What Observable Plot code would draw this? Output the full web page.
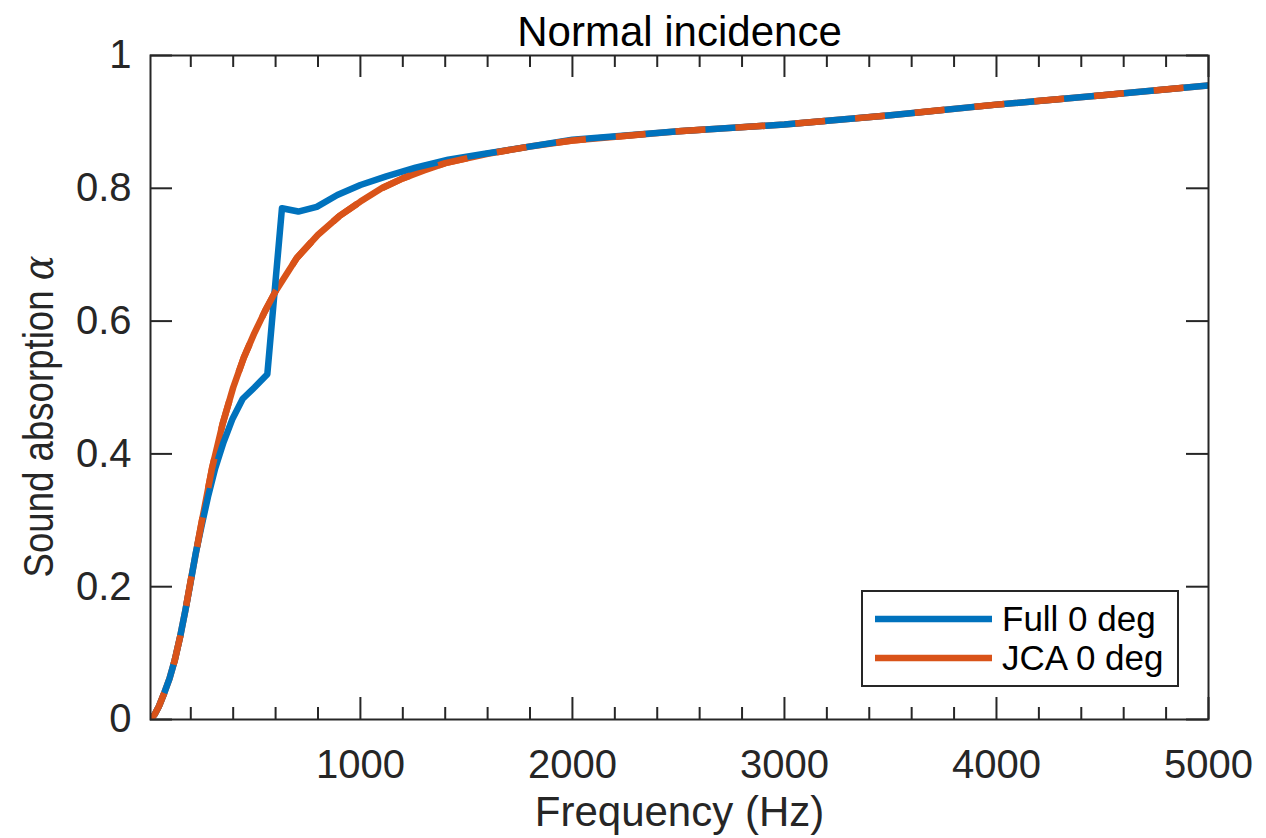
<!DOCTYPE html>
<html>
<head>
<meta charset="utf-8">
<script src="https://cdn.jsdelivr.net/npm/d3@7"></script>
<script src="https://cdn.jsdelivr.net/npm/@observablehq/plot@0.6"></script>
<style>
  body { margin: 0; background: #ffffff; }
  #wrap { position: relative; width: 1266px; height: 838px; font-family: "Liberation Sans", Arial, Helvetica, sans-serif; }
</style>
</head>
<body>
<div id="wrap"></div>
<script>
// ---------- data ----------
const seriesNames = ["Full 0 deg", "JCA 0 deg"];
const seriesColors = ["#0072BD", "#D95319"];

const fullFreq  = [10, 30, 50, 75, 100, 125, 150, 175, 200, 223, 250, 281, 315, 354, 397, 445, 500, 561, 630, 707, 794, 891, 1000, 1122, 1260, 1414, 1587, 1782, 2000, 2500, 3000, 3500, 4000, 4500, 5000];
const fullAlpha = [0, 0.008, 0.02, 0.04, 0.062, 0.09, 0.125, 0.165, 0.208, 0.25, 0.29, 0.335, 0.378, 0.417, 0.453, 0.483, 0.50, 0.52, 0.77, 0.765, 0.772, 0.79, 0.805, 0.818, 0.831, 0.843, 0.852, 0.862, 0.873, 0.886, 0.896, 0.91, 0.926, 0.94, 0.955];

const jcaFreq  = [10, 30, 50, 75, 100, 125, 150, 175, 200, 225, 250, 300, 350, 400, 450, 500, 550, 600, 700, 800, 900, 1000, 1100, 1200, 1300, 1400, 1600, 1800, 2000, 2500, 3000, 3500, 4000, 4500, 5000];
const jcaAlpha = [0, 0.008, 0.02, 0.04, 0.062, 0.09, 0.125, 0.165, 0.21, 0.252, 0.295, 0.378, 0.445, 0.5, 0.545, 0.582, 0.615, 0.645, 0.695, 0.73, 0.758, 0.78, 0.80, 0.815, 0.827, 0.838, 0.852, 0.863, 0.872, 0.886, 0.896, 0.91, 0.926, 0.94, 0.955];

const xMajorTicks = [1000, 2000, 3000, 4000, 5000];
const xMinorTicks = [200, 400, 600, 800, 1200, 1400, 1600, 1800, 2200, 2400, 2600, 2800, 3200, 3400, 3600, 3800, 4200, 4400, 4600, 4800];
const yTicks = [0, 0.2, 0.4, 0.6, 0.8, 1];
const xDomain = [10, 5000];
const yDomain = [0, 1];

const titleText = "Normal incidence";
const xLabelText = "Frequency (Hz)";
const yLabelMain = "Sound absorption ";
const yLabelSymbol = "α";

// ---------- build ----------
const full = fullFreq.map((f, i) => ({f, a: fullAlpha[i]}));
const jca = jcaFreq.map((f, i) => ({f, a: jcaAlpha[i]}));

const W = 1266, H = 838;
const mL = 150, mR = 58, mT = 55, mB = 119;
const fw = W - mL - mR, fh = H - mT - mB;
const axisColor = "#262626";
const lw = 6.5;

const chart = Plot.plot({
  width: W, height: H,
  marginLeft: mL, marginRight: mR, marginTop: mT, marginBottom: mB,
  x: {domain: xDomain, axis: null},
  y: {domain: yDomain, axis: null},
  style: {fontFamily: '"Liberation Sans", Arial, Helvetica, sans-serif', background: "#ffffff", color: axisColor, overflow: "visible"},
  marks: [
    // ticks (inward, MATLAB box style)
    Plot.tickX(xMajorTicks, {x: d => d, insetTop: fh - 22, stroke: axisColor, strokeWidth: 2}),
    Plot.tickX(xMajorTicks, {x: d => d, insetBottom: fh - 22, stroke: axisColor, strokeWidth: 2}),
    Plot.tickX(xMinorTicks, {x: d => d, insetTop: fh - 12, stroke: axisColor, strokeWidth: 2}),
    Plot.tickX(xMinorTicks, {x: d => d, insetBottom: fh - 12, stroke: axisColor, strokeWidth: 2}),
    Plot.tickY(yTicks, {y: d => d, insetRight: fw - 22, stroke: axisColor, strokeWidth: 2}),
    Plot.tickY(yTicks, {y: d => d, insetLeft: fw - 22, stroke: axisColor, strokeWidth: 2}),
    // tick labels
    Plot.axisX({ticks: xMajorTicks, anchor: "bottom", tickSize: 0, tickPadding: 30, fontSize: 40, label: null, tickFormat: d => String(d), fill: axisColor}),
    Plot.axisY({ticks: yTicks, anchor: "left", tickSize: 0, tickPadding: 19, fontSize: 40, label: null, tickFormat: d => String(d), fill: axisColor}),
    // data lines
    Plot.line(jca, {x: "f", y: "a", stroke: seriesColors[1], strokeWidth: lw, strokeLinejoin: "round", clip: true}),
    Plot.line(full, {x: "f", y: "a", stroke: seriesColors[0], strokeWidth: lw, strokeLinejoin: "round", clip: true}),
    Plot.line(jca, {x: "f", y: "a", stroke: seriesColors[1], strokeWidth: lw, strokeDasharray: "30,30", strokeLinecap: "butt", clip: true}),
    // frame
    Plot.frame({stroke: axisColor, strokeWidth: 2}),
    // title and labels
    Plot.text([titleText], {frameAnchor: "top", text: d => d, dy: -10, lineAnchor: "bottom", fontSize: 42, fill: "#000000"}),
    Plot.text([xLabelText], {frameAnchor: "bottom", text: d => d, dy: 106, lineAnchor: "bottom", fontSize: 42, fill: axisColor}),
    Plot.text([yLabelMain + yLabelSymbol], {frameAnchor: "left", text: d => d, rotate: -90, dx: -98, dy: 29, textAnchor: "middle", lineAnchor: "bottom", fontSize: 42, fill: axisColor})
  ]
});

// italic math alpha in the y label, condensed like the original
d3.select(chart).selectAll("text").each(function () {
  if (this.textContent === yLabelMain + yLabelSymbol) {
    const t = d3.select(this);
    t.text(yLabelMain);
    t.append("tspan").attr("font-style", "italic").attr("font-family", '"DejaVu Serif", serif').text(yLabelSymbol);
    t.attr("textLength", 322).attr("lengthAdjust", "spacingAndGlyphs");
  }
});

const wrap = document.getElementById("wrap");
wrap.appendChild(chart);

// legend
const leg = d3.select(wrap).append("svg")
  .style("position", "absolute").style("left", "861px").style("top", "590px")
  .attr("width", 318).attr("height", 97);
leg.append("rect").attr("x", 1).attr("y", 1).attr("width", 316).attr("height", 95)
  .attr("fill", "#ffffff").attr("stroke", axisColor).attr("stroke-width", 2);
seriesNames.forEach((name, i) => {
  const cy = 29 + i * 39;
  leg.append("line").attr("x1", 14).attr("x2", 131).attr("y1", cy).attr("y2", cy)
    .attr("stroke", seriesColors[i]).attr("stroke-width", lw);
  leg.append("text").attr("x", 141).attr("y", cy + 12).text(name)
    .attr("font-size", 35).attr("fill", "#000000")
    .attr("font-family", '"Liberation Sans", Arial, Helvetica, sans-serif');
});
</script>
</body>
</html>
